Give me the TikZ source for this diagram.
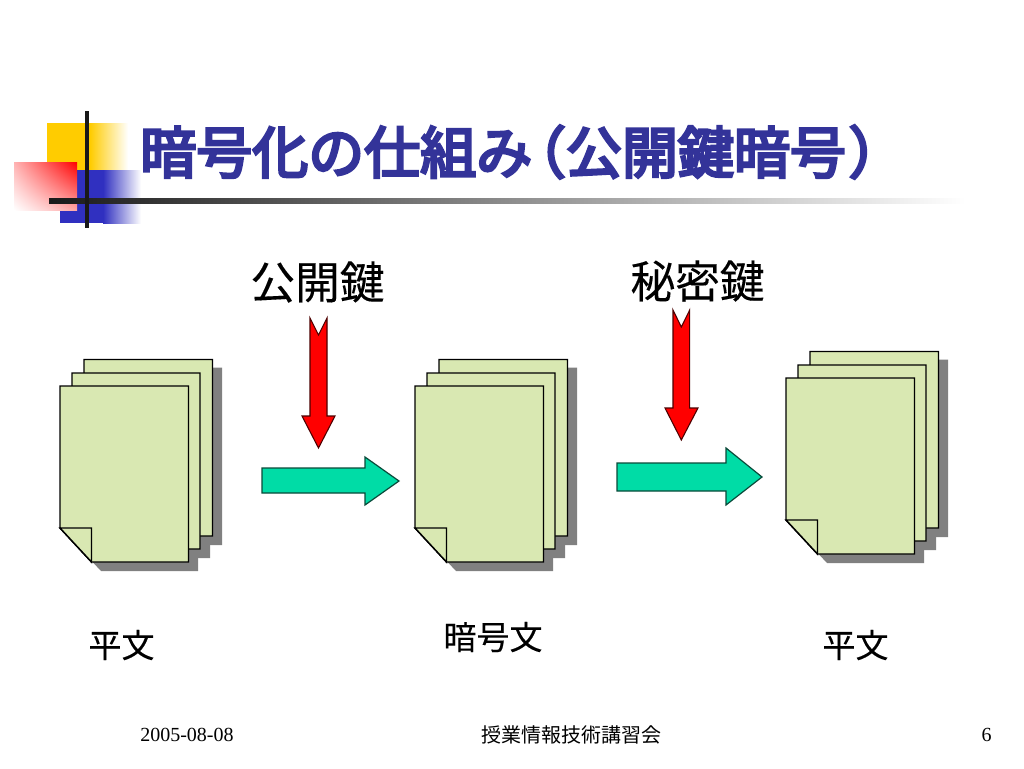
\documentclass[tikz,border=0pt]{standalone}
\usepackage{fontspec}
\setmainfont{Liberation Serif}
\newfontfamily\cjk{Noto Sans CJK JP}
\newfontfamily\cjktitle[FakeBold=5]{Noto Sans CJK JP}
\newfontfamily\cjklabel[FakeBold=0.2]{Noto Sans CJK JP}
\usetikzlibrary{shadings}
\definecolor{titleblue}{HTML}{333399}
\definecolor{sheetgreen}{HTML}{D9E8B2}
\definecolor{arrowgreen}{HTML}{00DCA6}
\definecolor{logoyellow}{HTML}{FFCC00}
\definecolor{logoblue}{HTML}{3030C0}
\definecolor{outlinegreen}{HTML}{0A4A3A}
\tikzset{
  sheet/.style={draw=black,fill=sheetgreen,line width=1.1pt,line join=miter},
  sheetshadow/.style={fill=black!50!white,draw=none},
  redarrow/.style={draw=black!70!red,fill=red,line width=.8pt},
  greenarrow/.style={draw=outlinegreen,fill=arrowgreen,line width=.9pt},
  bodylabel/.style={inner sep=0pt,font=\cjklabel\fontsize{24.75}{28}\selectfont},
  keylabel/.style={inner sep=0pt,font=\cjklabel\fontsize{33.5}{38}\selectfont},
  footlabel/.style={inner sep=0pt,font=\fontsize{15}{18}\selectfont}
}
\newcommand{\docstack}[2]{%
  \begin{scope}[shift={(#1,#2)}]
    \fill[sheetshadow] (93,367.5) -- (222,367.5) -- (222,545) -- (124.5,545) -- (93,511) -- cycle;
    \fill[sheetshadow] (81,381) -- (210,381) -- (210,558) -- (112.5,558) -- (81,524) -- cycle;
    \fill[sheetshadow] (69,395) -- (198,395) -- (198,571) -- (101,571) -- (69,537) -- cycle;
    \draw[sheet] (84,359.5) -- (212.5,359.5) -- (212.5,536) -- (115.5,536) -- (84,502) -- cycle;
    \draw[sheet] (72,373) -- (200,373) -- (200,549) -- (103.5,549) -- (72,515) -- cycle;
    \draw[sheet] (60,386) -- (188.5,386) -- (188.5,562) -- (91.5,562) -- (60,528) -- cycle;
    \draw[sheet] (60,528) -- (91.5,528) -- (91.5,562) -- cycle;
  \end{scope}}
\begin{document}
\begin{tikzpicture}[x=.75pt,y=-.75pt]
\useasboundingbox[fill=white] (0,0) rectangle (1024,768);
% logo
\fill[logoyellow] (47,123) rectangle (90,170);
\shade[left color=logoyellow,right color=white] (90,123) rectangle (128,170);
\fill[logoblue] (77,170) rectangle (103,210);
\fill[logoblue] (60,210) rectangle (103,223);
\shade[left color=logoblue,right color=white] (103,170) rectangle (141,223);
\shade[lower left=white,upper right=red,upper left=red!30!white,lower right=red!35!white] (14,162) rectangle (77,210);
\shade[left color=black!90,right color=white] (49,198.5) rectangle (965,203.5);
\fill[black!90] (85,111) rectangle (89,228);
% title
\node[anchor=west,inner sep=0pt,text=titleblue,font=\cjktitle\fontsize{42}{48}\selectfont] (title) at (140,152) {暗号化の仕組み\hspace{-.4em}（公開鍵暗号\hspace{.05em}）};
% key labels
\node[keylabel] (pubkey) at (317.5,282) {公開鍵};
\node[keylabel] (seckey) at (697.5,281) {秘密鍵};
% stacks
\docstack{0}{0}
\docstack{355}{0}
\docstack{726}{-8}
% red arrows
\draw[redarrow] (310,318) -- (318.5,335) -- (327,318) -- (327,416) -- (335,416) -- (318.5,448) -- (302,416) -- (310,416) -- cycle;
\draw[redarrow] (673,310) -- (681.3,327) -- (689.7,310) -- (689.7,408) -- (698,408) -- (681.3,440) -- (665,408) -- (673,408) -- cycle;
% green arrows
\draw[greenarrow] (262,468) -- (365,468) -- (365,457) -- (399,481) -- (365,505) -- (365,493) -- (262,493) -- cycle;
\draw[greenarrow] (617,463) -- (726,463) -- (726,448) -- (762,477) -- (726,505) -- (726,491) -- (617,491) -- cycle;
% labels
\node[bodylabel] (plainA) at (121.5,645) {平文};
\node[bodylabel] (cipher) at (493,637) {暗号文};
\node[bodylabel] (plainB) at (855.5,645) {平文};
% footer
\node[footlabel,anchor=west] (date) at (140,735) {2005-08-08};
\node[footlabel] (event) at (571.5,735) {\cjk 授業情報技術講習会};
\node[footlabel,anchor=east] (page) at (992,735) {6};
\end{tikzpicture}
\end{document}
